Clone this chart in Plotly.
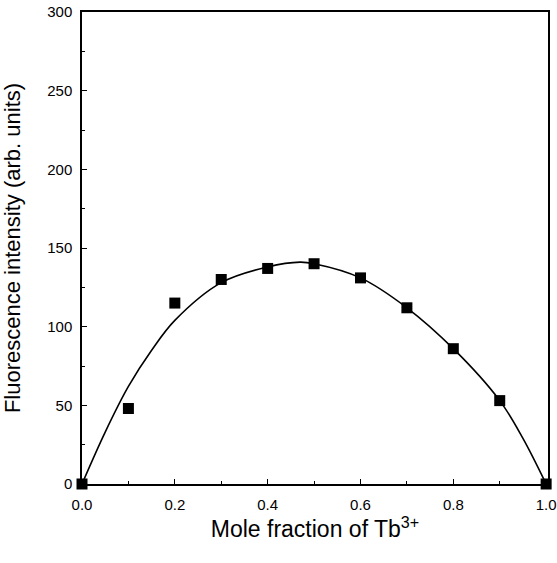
import plotly.graph_objects as go

# Measured fluorescence intensity vs. Tb3+ mole fraction
mole_fraction = [0.0, 0.1, 0.2, 0.3, 0.4, 0.5, 0.6, 0.7, 0.8, 0.9, 1.0]
intensity = [0, 48, 115, 130, 137, 140, 131, 112, 86, 53, 0]

# Smooth fitted trend curve
fit_x = [0.0, 0.05, 0.1, 0.15, 0.2, 0.3, 0.4, 0.47, 0.5, 0.6, 0.7, 0.8, 0.9, 0.95, 1.0]
fit_y = [0, 33, 62, 85, 104, 128, 138, 141, 140, 131, 112, 86, 53, 29, 0]

x_ticks = [0.0, 0.2, 0.4, 0.6, 0.8, 1.0]
y_ticks = [0, 50, 100, 150, 200, 250, 300]

FONT = "Liberation Sans, Arial, sans-serif"

fig = go.Figure()
fig.add_trace(go.Scatter(
    x=fit_x, y=fit_y, mode="lines",
    line=dict(color="black", width=1.6, shape="spline", smoothing=1.0),
    showlegend=False, hoverinfo="skip",
))
fig.add_trace(go.Scatter(
    x=mole_fraction, y=intensity, mode="markers",
    marker=dict(symbol="square", size=11, color="black"),
    showlegend=False, cliponaxis=False,
))

axis_common = dict(
    showgrid=False, zeroline=False,
    showline=True, linecolor="black", linewidth=1.5, mirror=True,
    ticks="inside", ticklen=5, tickwidth=1.2, tickcolor="black",
    tickfont=dict(family=FONT, size=15, color="black"),
    minor=dict(ticks="inside", ticklen=3, tickwidth=1, tickcolor="black"),
)

fig.update_xaxes(
    range=[0, 1.004], tickvals=x_ticks, ticktext=[f"{v:.1f}" for v in x_ticks],
    minor_tickvals=[0.1, 0.3, 0.5, 0.7, 0.9],
    title=dict(text="Mole fraction of Tb<sup>3+</sup>", font=dict(family=FONT, size=23, color="black"), standoff=0),
    ticklabelstandoff=6,
    **axis_common,
)
fig.update_yaxes(
    range=[0, 300], tickvals=y_ticks, ticktext=[str(v) for v in y_ticks],
    minor_tickvals=[25, 75, 125, 175, 225, 275],
    title=dict(text="Fluorescence intensity (arb. units)", font=dict(family=FONT, size=22, color="black"), standoff=21),
    ticklabelstandoff=5,
    **axis_common,
)

fig.update_layout(
    width=557, height=563,
    margin=dict(l=82, r=9, t=12, b=79, autoexpand=False),
    paper_bgcolor="white", plot_bgcolor="white",
    font=dict(family=FONT, color="black"),
)

fig.write_html("out.html")
